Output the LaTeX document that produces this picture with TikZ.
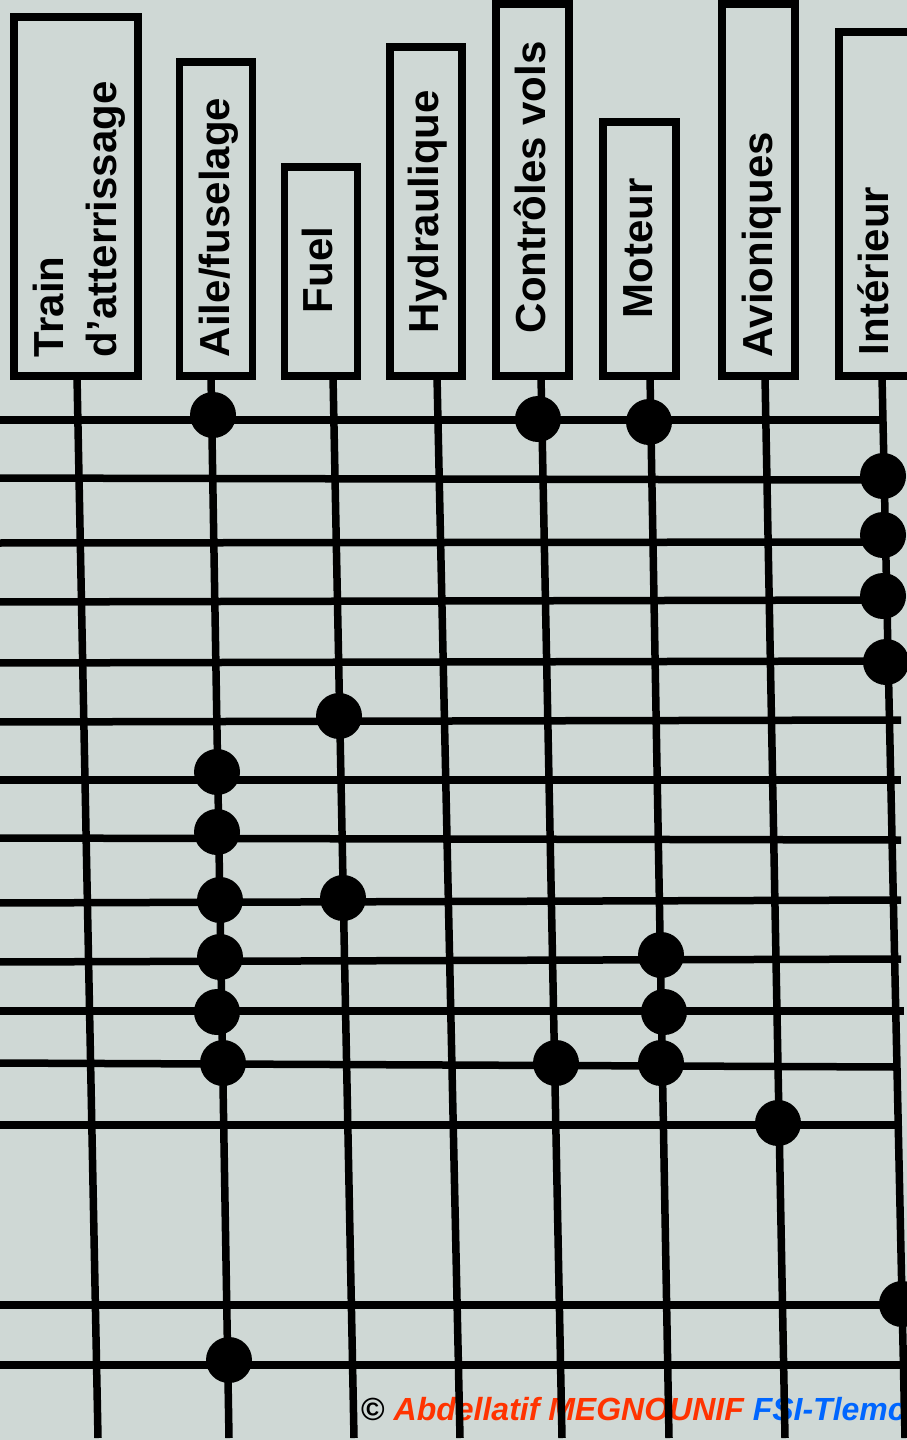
\documentclass[tikz,border=0pt]{standalone}
\usepackage{fontspec}
\setmainfont{Liberation Sans}
\definecolor{bg}{RGB}{207,216,213}
\definecolor{redor}{RGB}{255,51,0}
\definecolor{blu}{RGB}{0,102,255}
\tikzset{
  lbl/.style={rotate=90, anchor=base west, inner sep=0pt, outer sep=0pt, font=\fontsize{42}{50}\selectfont\bfseries},
  boxst/.style={draw=black, line width=7.5pt, rectangle, anchor=north west, inner sep=0pt, outer sep=0pt},
  wire/.style={line width=7.5pt, draw=black},
  dot/.style={circle, fill=black, minimum size=46pt, inner sep=0pt, outer sep=0pt},
}
\begin{document}
\begin{tikzpicture}[x=1pt,y=-1pt]
\useasboundingbox (0,0) rectangle (907,1440);
\clip (0,0) rectangle (907,1440);
\fill[bg] (0,0) rectangle (907,1440);

% copyright
\node[anchor=base west, inner sep=0pt, font=\fontsize{32}{38}\selectfont\bfseries\itshape] (copy) at (361,1420)
  {{\upshape ©} \textcolor{redor}{Abdellatif MEGNOUNIF} \textcolor{blu}{FSI-Tlemcen}};

% boxes
\node[boxst, minimum width=124pt, minimum height=359pt] (b1) at (14,17) {};
\node[boxst, minimum width=73pt, minimum height=314pt] (b2) at (179.5,62) {};
\node[boxst, minimum width=73pt, minimum height=209pt] (b3) at (284.5,167) {};
\node[boxst, minimum width=72pt, minimum height=329pt] (b4) at (390,47) {};
\node[boxst, minimum width=73pt, minimum height=372pt] (b5) at (496,4) {};
\node[boxst, minimum width=73pt, minimum height=254pt] (b6) at (603,122) {};
\node[boxst, minimum width=73pt, minimum height=372pt] (b7) at (722,4) {};
\node[boxst, minimum width=73pt, minimum height=344pt] (b8) at (839,32) {};

% labels
\node[lbl] (l1a) at (63,357) {Train};
\node[lbl] (l1b) at (116,357) {d’atterrissage};
\node[lbl] (l2) at (229,357) {Aile/fuselage};
\node[lbl] (l3) at (332,313) {Fuel};
\node[lbl] (l4) at (438,333) {Hydraulique};
\node[lbl] (l5) at (545,333) {Contrôles vols};
\node[lbl] (l6) at (652,318) {Moteur};
\node[lbl] (l7) at (772,357) {Avioniques};
\node[lbl] (l8) at (888,355) {Intérieur};

% vertical wires
\foreach \i/\a/\b in {1/77/98, 2/211/229, 3/333/354, 4/437/460, 5/541/562, 6/650/669, 7/765/785, 8/882/905} {
  \coordinate (v\i t) at (\a,376);
  \coordinate (v\i b) at (\b,1438);
  \draw[wire] (v\i t) -- (v\i b);
}

% horizontal wires
\foreach \i/\yl/\yr/\xr in {1/420/420/884, 2/478/480/883, 3/543/542/883, 4/602/600/883, 5/663/661/886,
  6/722/720/901, 7/780/780/901, 8/838/840/901, 9/903/900/901, 10/962/959/901, 11/1011/1011/904,
  12/1063/1067/896, 13/1125/1125/896, 14/1305/1305/915, 15/1365/1365/915} {
  \coordinate (h\i l) at (-5,\yl);
  \coordinate (h\i r) at (\xr,\yr);
  \draw[wire] (h\i l) -- (h\i r);
}

% dots
\foreach \i/\x/\y in {1/213/415, 2/538/419, 3/649/422, 4/883/476, 5/883/535, 6/883/596, 7/886/662,
  8/339/716, 9/217/772, 10/217/832, 11/220/900, 12/343/898, 13/220/957, 14/661/955,
  15/217/1012, 16/664/1012, 17/223/1063, 18/556/1063, 19/661/1063, 20/778/1123, 21/902/1304, 22/229/1360} {
  \node[dot] (d\i) at (\x,\y) {};
}
\end{tikzpicture}
\end{document}
